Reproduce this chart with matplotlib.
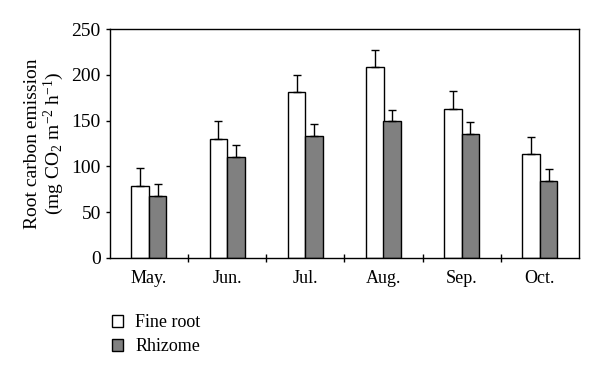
import matplotlib
matplotlib.use('Agg')
import matplotlib.pyplot as plt
import numpy as np

plt.rcParams['font.family'] = ['Liberation Serif', 'DejaVu Serif']
plt.rcParams['mathtext.default'] = 'regular'

# Root carbon emission by month
months = ['May.', 'Jun.', 'Jul.', 'Aug.', 'Sep.', 'Oct.']
fine_root = [79, 130, 181, 208, 163, 113]
fine_root_err = [19, 19, 19, 19, 19, 19]
rhizome = [68, 110, 133, 149, 135, 84]
rhizome_err = [13, 13, 13, 13, 13, 13]

fig = plt.figure(figsize=(6, 3.77), dpi=100)
ax = fig.add_axes([0.183, 0.316, 0.782, 0.607])

x = np.arange(len(months))
w = 0.225
zeros = [0] * len(months)
b1 = ax.bar(x - w / 2, fine_root, w, color='white', edgecolor='black', linewidth=1,
            yerr=[zeros, fine_root_err], error_kw=dict(ecolor='black', elinewidth=1, capsize=3, capthick=1),
            label='Fine root')
b2 = ax.bar(x + w / 2, rhizome, w, color='#808080', edgecolor='black', linewidth=1,
            yerr=[zeros, rhizome_err], error_kw=dict(ecolor='black', elinewidth=1, capsize=3, capthick=1),
            label='Rhizome')

ax.set_xlim(-0.5, len(months) - 0.5)
ax.set_ylim(0, 250)
ax.set_yticks([0, 50, 100, 150, 200, 250])
ax.set_xticks(x)
ax.set_xticklabels(months)
ax.tick_params(axis='x', length=0, labelsize=13, pad=9)
ax.set_xticks(np.arange(0.5, len(months) - 0.5), minor=True)
ax.tick_params(axis='x', which='minor', length=6, direction='inout', width=1)
ax.tick_params(axis='y', labelsize=14, direction='out', length=3, width=1)
ax.set_ylabel('Root carbon emission\n(mg CO$_2$ m$^{-2}$ h$^{-1}$)', fontsize=14, linespacing=1.05)
for s in ax.spines.values():
    s.set_linewidth(1)

ax.legend(handles=[b1, b2], labels=['Fine root', 'Rhizome'], loc='upper left',
          bbox_to_anchor=(-0.03, -0.175), frameon=False, fontsize=13,
          handlelength=0.6, handleheight=0.6, handletextpad=0.7, labelspacing=0.4)

plt.savefig('out.png', dpi=100)
